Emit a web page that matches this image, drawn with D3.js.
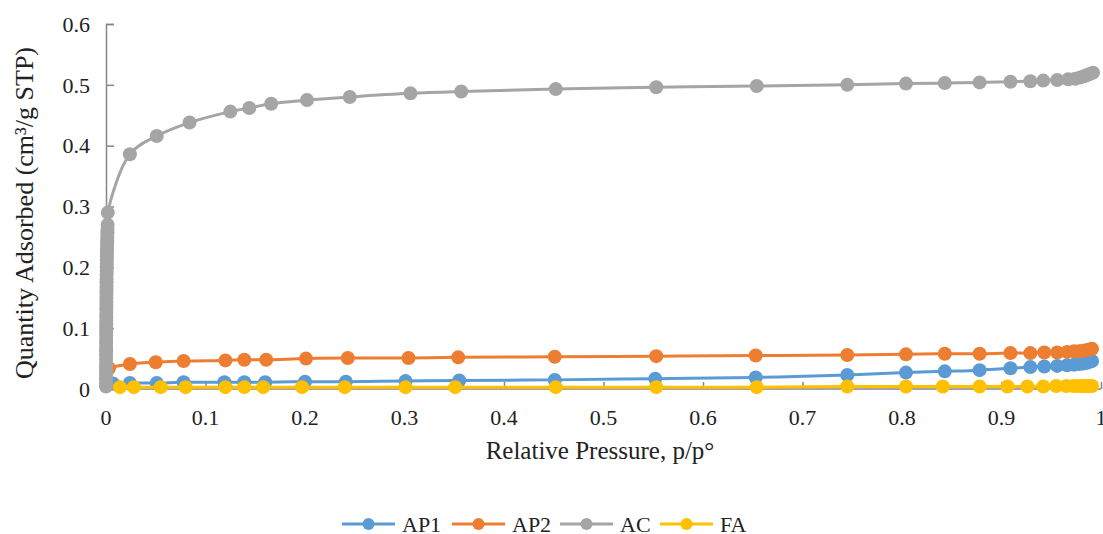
<!DOCTYPE html>
<html><head><meta charset="utf-8">
<script src="https://cdn.jsdelivr.net/npm/d3@7"></script>
<style>
html,body{margin:0;padding:0;background:#fff;overflow:hidden}
text{font-family:"Liberation Serif","Times New Roman",serif;fill:#222}
</style></head>
<body><svg id="c" width="1103" height="534" font-family="Liberation Serif, Times New Roman, serif"></svg>
<script>
// ---- data ----
const seriesNames = ["AP1","AP2","AC","FA"];
const seriesColors = ["#5B9BD5","#ED7D31","#A5A5A5","#FFC000"];

const ap1X = [0.001,0.007,0.024,0.051,0.078,0.119,0.139,0.160,0.200,0.241,0.301,0.355,0.451,0.552,0.653,0.745,0.804,0.843,0.878,0.909,0.929,0.943,0.956,0.966,0.973,0.978,0.982,0.986,0.989,0.991];
const ap1Y = [0.007,0.009,0.010,0.010,0.011,0.011,0.011,0.011,0.012,0.012,0.013,0.014,0.015,0.017,0.019,0.023,0.027,0.029,0.031,0.034,0.036,0.037,0.038,0.039,0.040,0.041,0.042,0.043,0.045,0.046];

const ap2X = [0.0005,0.003,0.024,0.050,0.078,0.120,0.139,0.161,0.201,0.243,0.304,0.354,0.451,0.553,0.653,0.745,0.804,0.843,0.878,0.909,0.929,0.943,0.956,0.966,0.973,0.978,0.982,0.986,0.989,0.991];
const ap2Y = [0.030,0.034,0.041,0.044,0.046,0.047,0.048,0.048,0.050,0.051,0.051,0.052,0.053,0.054,0.055,0.056,0.057,0.058,0.058,0.059,0.059,0.060,0.060,0.061,0.062,0.062,0.063,0.064,0.065,0.066];

const acX = [0.00001,0.00002,0.00003,0.00004,0.00005,0.00006,0.00007,0.00008,0.0001,0.00011,0.00013,0.00014,0.00016,0.00018,0.0002,0.00022,0.00025,0.00028,0.0003,0.00033,0.00035,0.00038,0.0004,0.00043,0.00045,0.00048,0.0005,0.00055,0.0006,0.00065,0.0007,0.00075,0.0008,0.00085,0.0009,0.00095,0.001,0.0011,0.0012,0.0013,0.0014,0.0015,0.0016,0.0018,
  0.024,0.051,0.084,0.125,0.144,0.166,0.202,0.245,0.306,0.357,0.452,0.553,0.654,0.745,0.804,0.843,0.878,0.909,0.929,0.942,0.956,0.967,0.974,0.979,0.983,0.986,0.989,0.992];
const acY = [0.004,0.010,0.016,0.022,0.028,0.035,0.041,0.048,0.055,0.062,0.068,0.075,0.081,0.088,0.094,0.100,0.106,0.112,0.118,0.125,0.131,0.138,0.144,0.150,0.156,0.162,0.168,0.175,0.181,0.188,0.194,0.200,0.206,0.212,0.218,0.225,0.231,0.238,0.244,0.250,0.256,0.262,0.270,0.290,
  0.386,0.416,0.438,0.456,0.462,0.469,0.475,0.480,0.486,0.489,0.493,0.496,0.498,0.500,0.502,0.503,0.504,0.505,0.506,0.507,0.508,0.509,0.510,0.512,0.514,0.516,0.518,0.520];

const faX = [0.014,0.028,0.055,0.080,0.120,0.139,0.158,0.197,0.240,0.301,0.351,0.452,0.553,0.654,0.745,0.804,0.841,0.878,0.906,0.926,0.942,0.955,0.965,0.972,0.977,0.981,0.984,0.987,0.989,0.991];
const faY = [0.003,0.003,0.003,0.003,0.003,0.003,0.003,0.003,0.003,0.003,0.003,0.003,0.003,0.003,0.004,0.004,0.004,0.004,0.004,0.004,0.004,0.005,0.005,0.005,0.005,0.005,0.005,0.005,0.005,0.005];

const xTicks = [0,0.1,0.2,0.3,0.4,0.5,0.6,0.7,0.8,0.9,1];
const yTicks = [0,0.1,0.2,0.3,0.4,0.5,0.6];
const xTitle = "Relative Pressure, p/p°";
const yTitle = "Quantity Adsorbed (cm³/g STP)";

// ---- drawing ----
const svg = d3.select("#c");
const x = d3.scaleLinear().domain([0,1]).range([106,1101]);
const y = d3.scaleLinear().domain([0,0.6]).range([389,24]);
const axisColor = "#868686";
const FONT = "Liberation Serif, Times New Roman, serif";

// y axis (ticks inside)
const yAxis = svg.append("g").attr("transform","translate(106,0)")
  .call(d3.axisRight(y).tickValues(yTicks).tickSize(8).tickFormat(""));
yAxis.select(".domain").attr("stroke",axisColor).attr("stroke-width",1.5).attr("d","M8,24.5H0.5V389");
yAxis.selectAll(".tick line").attr("stroke",axisColor).attr("stroke-width",1.5);
svg.append("g").selectAll("text").data(yTicks).join("text")
  .attr("x",90).attr("y",d=>y(d)).attr("dy","0.35em").attr("text-anchor","end")
  .attr("font-family",FONT).attr("font-size",22).text(d=>d3.format("")(d));

// x axis (ticks inside, upward)
const xAxis = svg.append("g").attr("transform","translate(0,389)")
  .call(d3.axisTop(x).tickValues(xTicks).tickSize(7).tickFormat(""));
xAxis.select(".domain").attr("stroke",axisColor).attr("stroke-width",1.5).attr("d","M106,0H1101");
xAxis.selectAll(".tick line").attr("stroke",axisColor).attr("stroke-width",1.5);
svg.append("g").selectAll("text").data(xTicks).join("text")
  .attr("x",d=>x(d)).attr("y",425).attr("text-anchor","middle")
  .attr("font-family",FONT).attr("font-size",22).text(d=>d3.format("")(d));

// titles
svg.append("text").attr("x",600).attr("y",459).attr("text-anchor","middle")
  .attr("font-family",FONT).attr("font-size",25).text(xTitle);
svg.append("text").attr("transform","translate(33,213) rotate(-90)").attr("text-anchor","middle")
  .attr("font-family",FONT).attr("font-size",26).text(yTitle);

// series
const allX = [ap1X,ap2X,acX,faX];
const allY = [ap1Y,ap2Y,acY,faY];
const line = d3.line().x(d=>x(d[0])).y(d=>y(d[1])).curve(d3.curveCatmullRom.alpha(0.5));
seriesNames.forEach((name,i)=>{
  const pts = allX[i].map((v,j)=>[v,allY[i][j]]);
  const g = svg.append("g");
  g.append("path").datum(pts).attr("d",line).attr("fill","none")
    .attr("stroke",seriesColors[i]).attr("stroke-width",3).attr("stroke-linejoin","round");
  g.selectAll("circle").data(pts).join("circle")
    .attr("cx",d=>x(d[0])).attr("cy",d=>y(d[1])).attr("r",7).attr("fill",seriesColors[i]);
});

// legend
const legX = [342,452,560,660];
const leg = svg.append("g");
seriesNames.forEach((name,i)=>{
  const lx = legX[i], ly = 524;
  leg.append("line").attr("x1",lx).attr("x2",lx+53).attr("y1",ly).attr("y2",ly)
    .attr("stroke",seriesColors[i]).attr("stroke-width",3);
  leg.append("circle").attr("cx",lx+26.5).attr("cy",ly).attr("r",6).attr("fill",seriesColors[i]);
  leg.append("text").attr("x",lx+60).attr("y",ly).attr("dy","0.35em")
    .attr("font-family",FONT).attr("font-size",22).text(name);
});
</script></body></html>
